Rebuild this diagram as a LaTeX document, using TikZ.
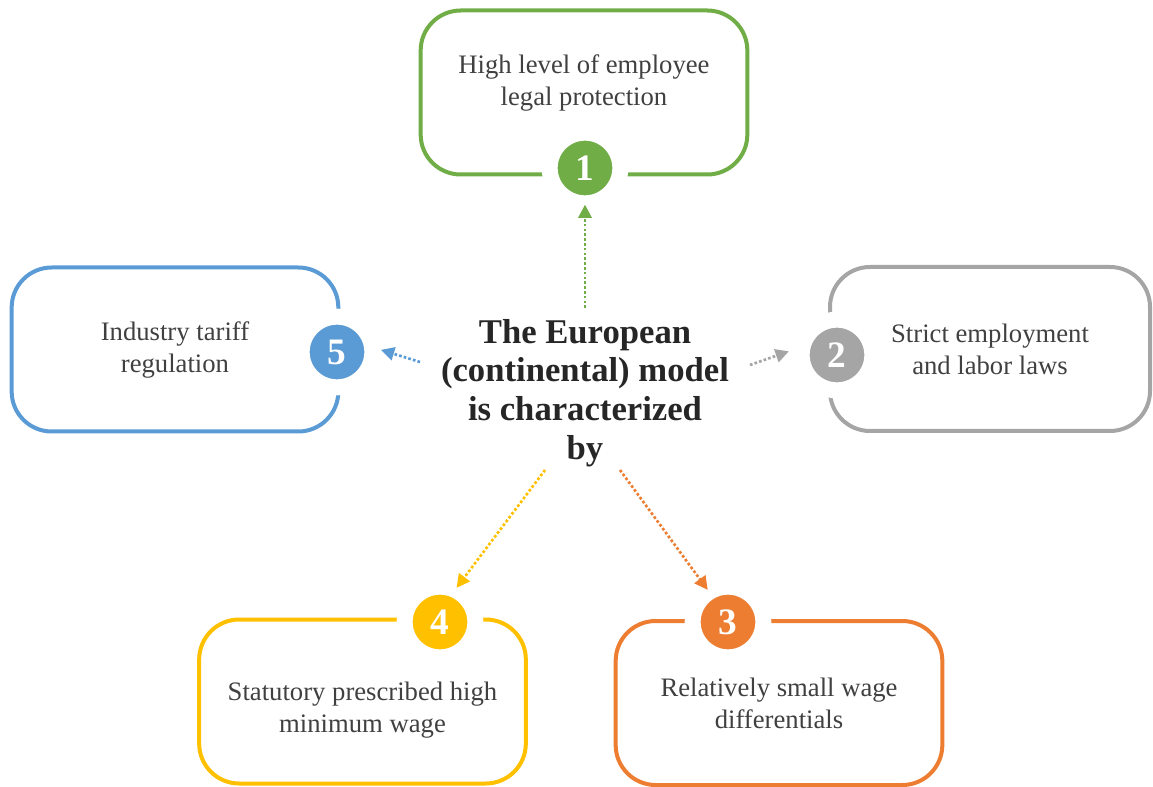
\documentclass[tikz,border=0pt]{standalone}
\usepackage{fontspec}
\setmainfont{Liberation Serif}
\usetikzlibrary{arrows.meta,calc}
\definecolor{cgreen}{HTML}{70AD47}
\definecolor{cgray}{HTML}{A5A5A5}
\definecolor{corange}{HTML}{ED7D31}
\definecolor{cyellow}{HTML}{FFC000}
\definecolor{cblue}{HTML}{5B9BD5}
\definecolor{ctext}{HTML}{404040}
\definecolor{cmain}{HTML}{262626}
\tikzset{
  featbox/.style={draw=#1, line width=3pt, rounded corners=30pt, minimum width=245pt,
    minimum height=123pt, align=center, text=ctext, font=\fontsize{20}{24}\selectfont},
  badge/.style={circle, fill=#1, draw=white, line width=12pt, minimum size=53pt,
    inner sep=0pt, outer sep=0pt, text=white, font=\bfseries\fontsize{28}{28}\selectfont},
  link/.style={->, draw=#1, line width=2pt, dash pattern=on 2pt off 1.6pt}
}
\begin{document}
\begin{tikzpicture}[x=0.75pt,y=-0.75pt,>={Triangle[length=10pt,width=10pt]},line cap=butt]
  \useasboundingbox (0,0) rectangle (1153,787);
  % boxes
  \node[featbox=cgreen] (box1) at (584,92.5) {High level of employee\\legal protection\\[-6pt]\mbox{}};
  \node[featbox=cgray, minimum width=240pt] (box2) at (990,349) {Strict employment\\and labor laws};
  \node[featbox=corange] (box3) at (779,703) {Relatively small wage\\differentials};
  \node[featbox=cyellow] (box4) at (362.5,701.5) {\mbox{}\\[3pt]Statutory prescribed high\\minimum wage};
  \node[featbox=cblue] (box5) at (175,349.5) {Industry tariff\\regulation};
  % numbered badges
  \node[badge=cgreen] (b1) at (585,168) {1};
  \node[badge=cgray] (b2) at (837,355) {2};
  \node[badge=corange] (b3) at (728,622) {3};
  \node[badge=cyellow] (b4) at (440,622) {4};
  \node[badge=cblue] (b5) at (337,352) {5};
  % centre
  \node[align=center, text=cmain, font=\bfseries\fontsize{26}{29}\selectfont] (main) at (585,393)
    {The European\\(continental) model\\is characterized\\by};
  \coordinate (s1) at (585,308);
  \coordinate (s2) at (750,365);
  \coordinate (s3) at (620,470);
  \coordinate (s4) at (545,470);
  \coordinate (s5) at (420,362);
  % arrows
  \draw[link=cgreen, shorten >=1pt] (s1) -- (b1.270);
  \draw[link=cgray, shorten >=11pt] (s2) -- (b2.166);
  \draw[link=corange, shorten >=2pt] (s3) -- (b3.122);
  \draw[link=cyellow, shorten >=2pt] (s4) -- (b4.65);
  \draw[link=cblue, shorten >=7pt] (s5) -- (b5.8);
\end{tikzpicture}
\end{document}
